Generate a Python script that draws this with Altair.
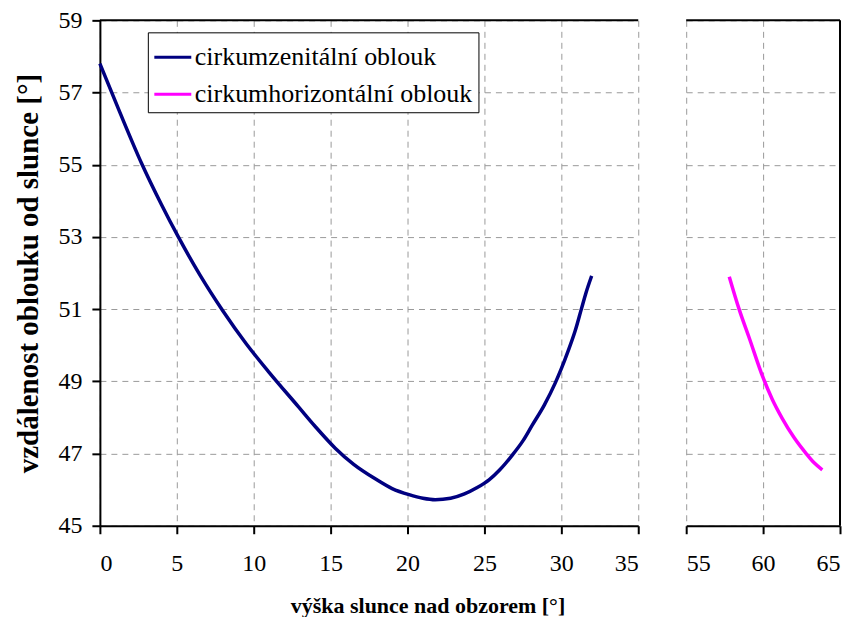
import altair as alt
import pandas as pd

# ---- data ----
series = ["cirkumzenitální oblouk", "cirkumhorizontální oblouk"]
colors = ["#000080", "#FF00FF"]

cza_x = [0, 1.3, 2.7, 4.0, 5.1, 6.5, 8.0, 9.5, 11.0, 12.9, 14.0, 15.3, 16.5,
         17.9, 19.0, 20.1, 21.0, 21.8, 22.8, 23.7, 24.5, 25.3, 26.0, 26.8,
         27.5, 28.1, 28.9, 29.6, 30.0, 30.45, 30.9, 31.3, 31.6, 31.97]
cza_y = [57.8, 56.45, 55.05, 53.9, 53.0, 51.95, 50.95, 50.05, 49.25, 48.3,
         47.75, 47.15, 46.7, 46.3, 46.03, 45.86, 45.76, 45.72, 45.76, 45.88,
         46.05, 46.27, 46.55, 46.95, 47.35, 47.78, 48.35, 48.95, 49.35, 49.85,
         50.4, 51.0, 51.45, 51.92]

cha_x = [57.8, 58.44, 59.1, 60.0, 60.6, 61.25, 62.0, 62.8, 63.3, 63.85]
cha_y = [51.9, 51.0, 50.2, 49.1, 48.5, 47.97, 47.45, 47.0, 46.75, 46.55]

y_ticks = [45, 47, 49, 51, 53, 55, 57, 59]
left_ticks = [0, 5, 10, 15, 20, 25, 30, 35]
right_ticks = [55, 60, 65]

x_title = "výška slunce nad obzorem [°]"
y_title = "vzdálenost oblouku od slunce [°]"

df_cza = pd.DataFrame({"x": cza_x, "y": cza_y, "s": series[0]})
df_cha = pd.DataFrame({"x": cha_x, "y": cha_y, "s": series[1]})
df_top = pd.DataFrame({"y": [y_ticks[-1]]})
df_right = pd.DataFrame({"x": [right_ticks[-1]]})

FONT = "Liberation Serif"

color = alt.Color(
    "s:N",
    scale=alt.Scale(domain=series, range=colors),
    legend=alt.Legend(
        title=None, orient="none", legendX=48, legendY=12,
        symbolType="stroke", symbolSize=1369, symbolStrokeWidth=3,
        labelFont=FONT, labelFontSize=26, labelColor="black",
        strokeColor="black", fillColor="white", padding=5,
        labelLimit=400, rowPadding=4, labelOffset=2,
    ),
)

yscale = alt.Scale(domain=[y_ticks[0], y_ticks[-1]], nice=False, zero=False)

axis_common = dict(
    gridColor="#9a9a9a", gridDash=[6, 5], gridWidth=1,
    domainColor="black", domainWidth=2, tickColor="black", tickWidth=2,
    tickSize=8, labelFont=FONT, labelFontSize=24, labelColor="black",
)

left_line = alt.Chart(df_cza).mark_line(strokeWidth=3.5, interpolate="monotone").encode(
    x=alt.X("x:Q", scale=alt.Scale(domain=[0, 35], nice=False, zero=False),
            axis=alt.Axis(values=left_ticks, title=None, labelPadding=18,
                          **axis_common)),
    y=alt.Y("y:Q", scale=yscale,
            axis=alt.Axis(values=y_ticks, title=y_title, labelPadding=10,
                          titleFont=FONT, titleFontSize=29, titleFontWeight="bold",
                          titleColor="black", titlePadding=14, **axis_common)),
    color=color,
)
left_top = alt.Chart(df_top).mark_rule(color="black", strokeWidth=2).encode(
    y=alt.Y("y:Q", scale=yscale))
left = alt.layer(left_line, left_top).properties(width=539, height=506)

right_line = alt.Chart(df_cha).mark_line(strokeWidth=3.5, interpolate="monotone").encode(
    x=alt.X("x:Q", scale=alt.Scale(domain=[55, 65], nice=False, zero=False),
            axis=alt.Axis(values=right_ticks, title=None, labelPadding=18,
                          **axis_common)),
    y=alt.Y("y:Q", scale=yscale,
            axis=alt.Axis(values=y_ticks, title=None, labels=False, ticks=False,
                          domain=False, gridColor="#9a9a9a", gridDash=[6, 5],
                          gridWidth=1)),
    color=color,
)
right_top = alt.Chart(df_top).mark_rule(color="black", strokeWidth=2).encode(
    y=alt.Y("y:Q", scale=yscale))
right_edge = alt.Chart(df_right).mark_rule(color="black", strokeWidth=2).encode(
    x=alt.X("x:Q", scale=alt.Scale(domain=[55, 65], nice=False, zero=False)))
right = alt.layer(right_line, right_top, right_edge).properties(width=154, height=506)

chart = alt.hconcat(left, right, spacing=46).properties(
    title=alt.TitleParams(text=x_title, orient="bottom", anchor="middle",
                          font=FONT, fontSize=22, fontWeight="bold",
                          color="black", offset=20),
    padding={"left": 7, "top": 0, "right": 5, "bottom": 0},
).configure_view(stroke=None)

chart.save("out.html", embed_options={"renderer": "svg", "actions": False})
